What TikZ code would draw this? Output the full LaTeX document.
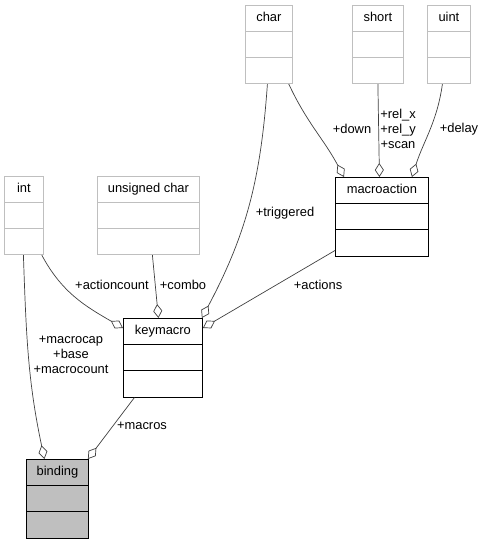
\documentclass[tikz,border=0pt]{standalone}
\usepackage{fontspec}
\setmainfont{Liberation Sans}
\usetikzlibrary{shapes.multipart,arrows.meta}

\definecolor{edgegrey}{HTML}{404040}
\definecolor{boxgrey}{HTML}{BFBFBF}

\newcommand{\dxfont}{\fontsize{12.9}{15.3}\selectfont}
\newcommand{\classparts}[1]{\strut #1\nodepart{second}\strut\nodepart{third}\strut}

\tikzset{
  member/.style={rectangle split, rectangle split parts=3, draw=black, line width=0.9pt,
    inner xsep=2pt, inner ysep=5pt, anchor=north west, font=\dxfont},
  builtin/.style={member, draw=boxgrey, line width=0.8pt},
  relation/.style={draw=edgegrey, line width=0.7pt,
    -{Diamond[open, length=14pt, width=9pt, fill=white]}},
  role/.style={font=\dxfont, align=center, inner sep=0pt}
}

\begin{document}
\begin{tikzpicture}[x=1pt, y=-1pt]
    \useasboundingbox (0,0) rectangle (485,541);

    % Nodes
    \node (char) at (245,5) [builtin, minimum width=47pt] {\classparts{char}};
    \node (short) at (352,5) [builtin, minimum width=51pt] {\classparts{short}};
    \node (uint) at (427,5) [builtin, minimum width=43pt] {\classparts{uint}};
    \node (macroaction) at (335,177) [member, minimum width=93pt] {\classparts{macroaction}};
    \node (int) at (4,176) [builtin, minimum width=39pt] {\classparts{int}};
    \node (uchar) at (97,176) [builtin, minimum width=102pt] {\classparts{unsigned char}};
    \node (keymacro) at (123,318) [member, minimum width=79pt] {\classparts{keymacro}};
    \node (binding) at (26,459) [member, fill=boxgrey, minimum width=62pt] {\classparts{binding}};

    % Edges
    \draw[relation] ([xshift=-1.5pt]char.south) to[out=266, in=62] ([xshift=-1pt]keymacro.north east);
    \draw[relation] ([xshift=-4pt]char.south east) to[out=295, in=118] ([xshift=9pt]macroaction.north west);
    \draw[relation] (short.south) -- ([xshift=-2.5pt]macroaction.north);
    \draw[relation] ([xshift=-6.5pt]uint.south) to[out=262, in=72] ([xshift=-17pt]macroaction.north east);
    \draw[relation] ([xshift=-2pt]int.south east) to[out=298, in=150] ([yshift=-10pt]keymacro.north west);
    \draw[relation] ([xshift=4pt]uchar.south) -- ([xshift=-4.5pt]keymacro.north);
    \draw[relation] ([yshift=6pt]macroaction.south west) -- ([yshift=-10pt]keymacro.north east);
    \draw[relation] ([xshift=-0.5pt]int.south) to[out=272, in=102] ([xshift=-13pt]binding.north);
    \draw[relation] ([xshift=-28.5pt]keymacro.south) -- ([xshift=-1pt]binding.north east);

    % Labels
    \node (triggered) at (285,213) [role] {+triggered};
    \node (down) at (352,129) [role] {+down};
    \node (relxy) at (398,129) [role] {+rel\_x\\+rel\_y\\+scan};
    \node (delay) at (459,129) [role] {+delay};
    \node (actioncount) at (112,285) [role] {+actioncount};
    \node (combo) at (183,285) [role] {+combo};
    \node (actions) at (318,285) [role] {+actions};
    \node (macrocap) at (71,355) [role] {+macrocap\\+base\\+macrocount};
    \node (macros) at (142,426) [role] {+macros};

\end{tikzpicture}
\end{document}
